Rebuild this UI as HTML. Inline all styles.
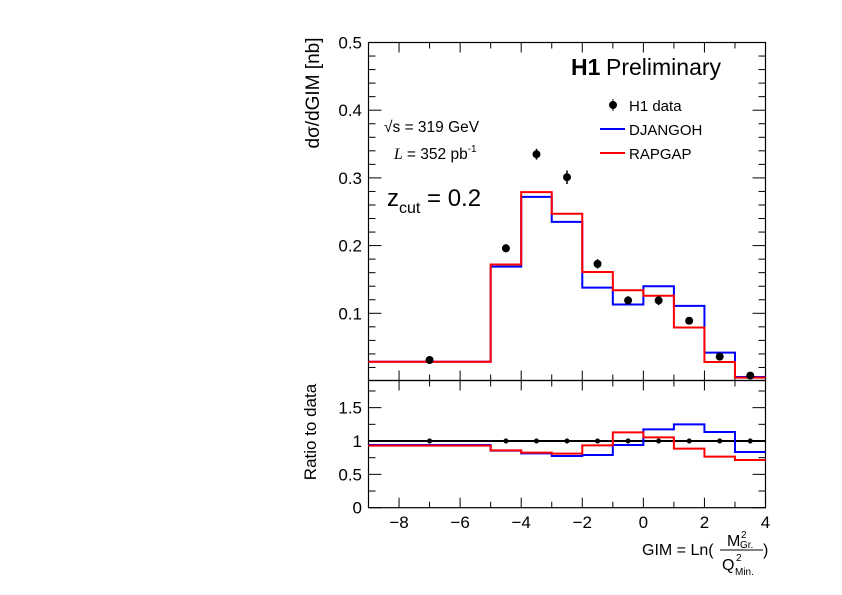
<!DOCTYPE html>
<html><head><meta charset="utf-8"><style>
body{margin:0;background:#fff}
svg{display:block;font-family:"Liberation Sans",sans-serif}
</style></head><body>
<svg id="s" width="842" height="595" xmlns="http://www.w3.org/2000/svg">
<rect width="842" height="595" fill="#fff"/>
<g id="g"></g>
<text x="319" y="93" font-size="19" text-anchor="middle" transform="rotate(-90 319 93)">dσ/dGIM [nb]</text>
<text x="316" y="432" font-size="17" text-anchor="middle" transform="rotate(-90 316 432)">Ratio to data</text>
<text x="571" y="75" font-size="23" font-weight="bold">H1</text>
<text x="606" y="75" font-size="23">Preliminary</text>
<text x="629" y="111" font-size="15">H1 data</text>
<text x="629" y="135" font-size="15">DJANGOH</text>
<text x="629" y="159" font-size="15">RAPGAP</text>
<line x1="600" y1="129" x2="625" y2="129" stroke="#00f" stroke-width="2"/>
<line x1="600" y1="153" x2="625" y2="153" stroke="#f00" stroke-width="2"/>
<circle cx="613" cy="105" r="4" fill="#000"/><line x1="613" y1="99" x2="613" y2="111" stroke="#000"/>
<text x="384" y="132" font-size="15.5">√s = 319 GeV</text>
<text x="394" y="159" font-size="15.5"><tspan font-family="Liberation Serif" font-style="italic">L</tspan> = 352 pb<tspan dy="-7" font-size="10">-1</tspan></text>
<text x="387" y="206" font-size="24">z<tspan dy="7" font-size="16">cut</tspan><tspan dy="-7"> = 0.2</tspan></text>
<text x="642" y="555" font-size="16">GIM = Ln(</text>
<line x1="720" y1="550" x2="763" y2="550" stroke="#000" stroke-width="1"/>
<text x="727" y="546" font-size="16">M</text><text x="741" y="538" font-size="10">2</text><text x="740" y="548" font-size="10">Gr.</text>
<text x="722" y="570" font-size="16">Q</text><text x="736" y="561" font-size="10">2</text><text x="735" y="575" font-size="10">Min.</text>
<text x="763" y="555" font-size="16">)</text>
</svg>
<script>
const g=document.getElementById('g');
const NS="http://www.w3.org/2000/svg";
function el(t,a){const e=document.createElementNS(NS,t);for(const k in a)e.setAttribute(k,a[k]);g.appendChild(e);return e;}
const L=368.5,R=765.5,T=42.5,B=380.5,B2=507.7;
const X=v=>L+(v+9)*30.54;
const Y=v=>381-677*v;
const Y2=v=>507.7-66.7*v;
el('rect',{x:L,y:T,width:R-L,height:B-T,fill:'none',stroke:'#000','stroke-width':1.2});
el('rect',{x:L,y:B,width:R-L,height:B2-B,fill:'none',stroke:'#000','stroke-width':1.2});
for(let v=-9;v<=4;v+=0.5){const maj=Number.isInteger(v/2);const one=Number.isInteger(v);
 const h=maj?10:(one?6:0); if(!h) continue;
 for(const [y0,d] of [[T,1],[B,-1],[B,1],[B2,-1]]) el('line',{x1:X(v),x2:X(v),y1:y0,y2:y0+d*h,stroke:'#000'});
}
for(let v=-8;v<=4;v+=2){const t=el('text',{x:X(v),y:528,'font-size':17,'text-anchor':'middle'});t.textContent=(v<0?'−':'')+Math.abs(v);}
for(let i=1;i<=25;i++){const v=i*0.02;const maj=i%5==0;const h=maj?13:7;
 el('line',{x1:L,x2:L+h,y1:Y(v),y2:Y(v),stroke:'#000'});el('line',{x1:R,x2:R-h,y1:Y(v),y2:Y(v),stroke:'#000'});
 if(maj){const t=el('text',{x:362,y:Y(v)+6,'font-size':17,'text-anchor':'end'});t.textContent=(v).toFixed(1);}
}
for(let i=0;i<=7;i++){const v=i*0.25;const maj=i%2==0;const h=maj?13:7;
 el('line',{x1:L,x2:L+h,y1:Y2(v),y2:Y2(v),stroke:'#000'});el('line',{x1:R,x2:R-h,y1:Y2(v),y2:Y2(v),stroke:'#000'});
 if(maj){const t=el('text',{x:362,y:Y2(v)+6,'font-size':17,'text-anchor':'end'});t.textContent=v==0?'0':(v==1?'1':v.toString());}
}
const edges=[-9,-5,-4,-3,-2,-1,0,1,2,3,4];
function hist(vals,f,col){let d='';for(let i=0;i<vals.length;i++){d+=(i?'L':'M')+X(edges[i])+' '+f(vals[i])+'L'+X(edges[i+1])+' '+f(vals[i]);}
 el('path',{d:d,fill:'none',stroke:col,'stroke-width':2});}
hist([0.0285,0.169,0.272,0.235,0.138,0.113,0.140,0.111,0.042,0.006],Y,'#00f');
hist([0.0285,0.172,0.279,0.247,0.161,0.134,0.126,0.079,0.028,0.005],Y,'#f00');
el('line',{x1:L,x2:R,y1:Y2(1),y2:Y2(1),stroke:'#000','stroke-width':2});
hist([0.94,0.855,0.815,0.775,0.79,0.94,1.175,1.25,1.135,0.835],Y2,'#00f');
hist([0.93,0.86,0.825,0.81,0.935,1.13,1.055,0.885,0.765,0.715],Y2,'#f00');
const dx=[-7,-4.5,-3.5,-2.5,-1.5,-0.5,0.5,1.5,2.5,3.5];
const dv=[0.031,0.196,0.335,0.301,0.173,0.119,0.119,0.089,0.036,0.008];
const de=[0.002,0.006,0.008,0.01,0.007,0.006,0.007,0.003,0.003,0.002];
dx.forEach((x,i)=>{el('line',{x1:X(x),x2:X(x),y1:Y(dv[i]+de[i]),y2:Y(dv[i]-de[i]),stroke:'#000','stroke-width':1.5});
 el('circle',{cx:X(x),cy:Y(dv[i]),r:4,fill:'#000'});
 el('line',{x1:X(x),x2:X(x),y1:Y2(1.04),y2:Y2(0.96),stroke:'#000'});
 el('circle',{cx:X(x),cy:Y2(1),r:2.5,fill:'#000'});});
</script>
</body></html>
